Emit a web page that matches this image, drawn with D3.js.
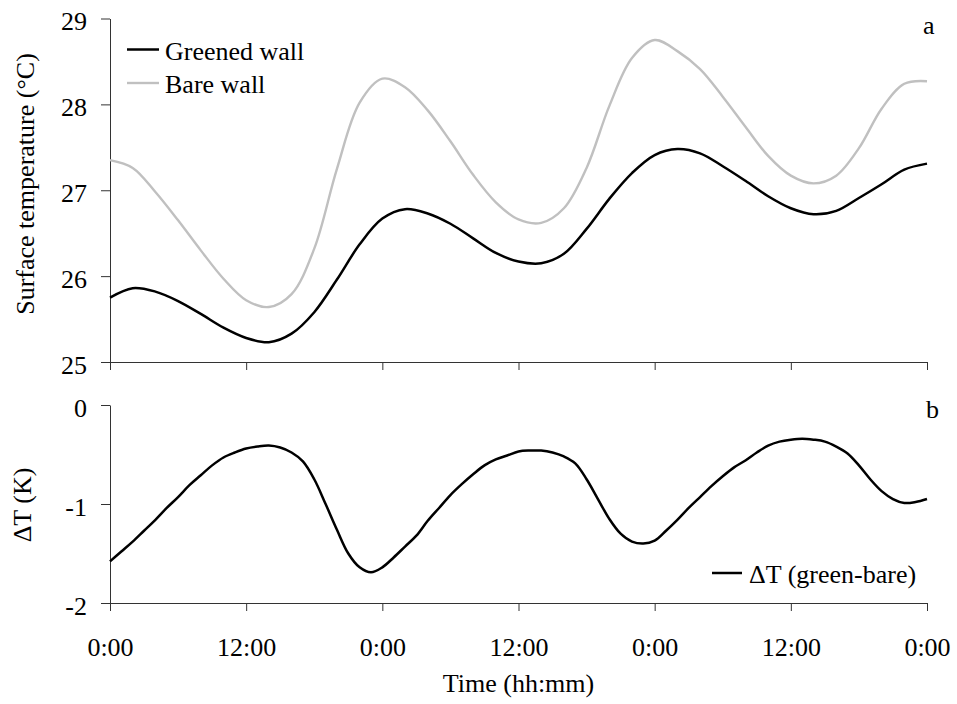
<!DOCTYPE html>
<html>
<head>
<meta charset="utf-8">
<script src="https://cdn.jsdelivr.net/npm/d3@7"></script>
<style>
  html, body { margin: 0; padding: 0; background: #fff; }
  svg { display: block; }
</style>
</head>
<body>
<svg id="chart" width="957" height="704"></svg>
<script>
// ---- Data ----
const hoursTop = [0,2,4,6,8,10,12,14,16,18,20,22,24,26,28,30,32,34,36,38,40,42,44,46,48,50,52,54,56,58,60,62,64,66,68,70,72];
const greenedWall = [25.75,25.86,25.82,25.71,25.56,25.40,25.28,25.23,25.33,25.58,25.96,26.37,26.67,26.78,26.73,26.61,26.44,26.27,26.17,26.15,26.26,26.55,26.90,27.20,27.41,27.48,27.43,27.28,27.11,26.93,26.79,26.72,26.76,26.91,27.07,27.24,27.31];
const bareWall = [27.35,27.26,26.98,26.65,26.30,25.97,25.72,25.64,25.79,26.32,27.25,28.02,28.30,28.20,27.93,27.57,27.18,26.86,26.66,26.62,26.79,27.26,27.98,28.54,28.75,28.62,28.41,28.09,27.74,27.40,27.17,27.08,27.17,27.49,27.95,28.24,28.27];

const hoursBottom = d3.range(0, 73, 1);
const deltaT = [-1.58,-1.48,-1.38,-1.27,-1.16,-1.04,-0.93,-0.81,-0.71,-0.61,-0.53,-0.48,-0.44,-0.42,-0.41,-0.43,-0.48,-0.57,-0.75,-1.00,-1.26,-1.50,-1.64,-1.69,-1.64,-1.54,-1.43,-1.32,-1.17,-1.04,-0.91,-0.80,-0.70,-0.61,-0.55,-0.51,-0.47,-0.46,-0.46,-0.48,-0.52,-0.59,-0.75,-0.95,-1.15,-1.30,-1.38,-1.40,-1.37,-1.27,-1.16,-1.04,-0.93,-0.82,-0.72,-0.63,-0.56,-0.48,-0.41,-0.37,-0.35,-0.34,-0.35,-0.37,-0.42,-0.49,-0.61,-0.75,-0.87,-0.95,-0.99,-0.98,-0.95];

const xTickValues = [0,12,24,36,48,60,72];
const xTickLabels = ["0:00","12:00","0:00","12:00","0:00","12:00","0:00"];
const yTopTicks = [25,26,27,28,29];
const yTopLabels = ["25","26","27","28","29"];
const yBotTicks = [-2,-1,0];
const yBotLabels = ["-2","-1","0"];

const seriesNames = ["Greened wall","Bare wall","\u0394T (green-bare)"];

// ---- Layout ----
const svg = d3.select("#chart");
const FONT = '"Liberation Serif", "Times New Roman", Tinos, Times';
const FS = "26px";
const axisColor = "#333";
const left = 110, right = 927;
const top1 = 18.5, bot1 = 362;
const top2 = 405, bot2 = 603;

const x = d3.scaleLinear().domain([0,72]).range([left, right]);
const yTop = d3.scaleLinear().domain([25,29]).range([bot1, top1]);
const yBot = d3.scaleLinear().domain([-2,0]).range([bot2, top2]);

function txt(sel) {
  return sel.style("font-family", FONT).style("font-size", FS).style("fill", "#000");
}
function styleAxis(g) {
  g.attr("font-family", null).attr("font-size", null);
  g.select(".domain").attr("stroke", axisColor).attr("stroke-width", 1);
  g.selectAll(".tick line").attr("stroke", axisColor).attr("stroke-width", 1);
  txt(g.selectAll("text"));
}

// Top panel axes
svg.append("g").attr("transform", `translate(0,${bot1})`)
  .call(d3.axisBottom(x).tickValues(xTickValues).tickFormat("").tickSize(8).tickSizeOuter(0))
  .call(styleAxis);
svg.append("g").attr("transform", `translate(${left},0)`)
  .call(d3.axisLeft(yTop).tickValues(yTopTicks).tickFormat((d,i)=>yTopLabels[i]).tickSize(9).tickPadding(14).tickSizeOuter(0))
  .call(styleAxis)
  .call(g => g.selectAll("text").attr("dy", "0.43em"));

// Bottom panel axes
svg.append("g").attr("transform", `translate(0,${bot2})`)
  .call(d3.axisBottom(x).tickValues(xTickValues).tickFormat((d,i)=>xTickLabels[i]).tickSize(8).tickPadding(26.5).tickSizeOuter(0))
  .call(styleAxis);
svg.append("g").attr("transform", `translate(${left},0)`)
  .call(d3.axisLeft(yBot).tickValues(yBotTicks).tickFormat((d,i)=>yBotLabels[i]).tickSize(9).tickPadding(14).tickSizeOuter(0))
  .call(styleAxis)
  .call(g => g.selectAll("text").attr("dy", "0.43em"));

// Lines
const curve = d3.curveCatmullRom.alpha(0.5);
const lineTop = (vals) => d3.line().x((d,i)=>x(hoursTop[i])).y(d=>yTop(d)).curve(curve)(vals);
svg.append("path").attr("d", lineTop(bareWall)).attr("fill","none").attr("stroke","#c0c0c0").attr("stroke-width",2.4).attr("stroke-linejoin","round");
svg.append("path").attr("d", lineTop(greenedWall)).attr("fill","none").attr("stroke","#000").attr("stroke-width",2.5).attr("stroke-linejoin","round");
const lineBot = d3.line().x((d,i)=>x(hoursBottom[i])).y(d=>yBot(d)).curve(curve);
svg.append("path").attr("d", lineBot(deltaT)).attr("fill","none").attr("stroke","#000").attr("stroke-width",2.5).attr("stroke-linejoin","round");

// Legends
const leg = svg.append("g");
leg.append("line").attr("x1",127).attr("x2",159).attr("y1",49.5).attr("y2",49.5).attr("stroke","#000").attr("stroke-width",2.5);
txt(leg.append("text").attr("x",165).attr("y",60)).text(seriesNames[0]);
leg.append("line").attr("x1",127).attr("x2",159).attr("y1",83).attr("y2",83).attr("stroke","#c0c0c0").attr("stroke-width",2.4);
txt(leg.append("text").attr("x",165).attr("y",93)).text(seriesNames[1]);
leg.append("line").attr("x1",712).attr("x2",742).attr("y1",573).attr("y2",573).attr("stroke","#000").attr("stroke-width",2.5);
txt(leg.append("text").attr("x",749).attr("y",583)).text(seriesNames[2]);

// Panel labels
txt(svg.append("text").attr("x",923).attr("y",34)).text("a");
txt(svg.append("text").attr("x",926).attr("y",418)).text("b");

// Axis titles
txt(svg.append("text").attr("transform","translate(34,184) rotate(-90)").attr("text-anchor","middle")).text("Surface temperature (\u00B0C)");
txt(svg.append("text").attr("transform","translate(31,505) rotate(-90)").attr("text-anchor","middle")).text("\u0394T (K)");
txt(svg.append("text").attr("x",518.5).attr("y",692).attr("text-anchor","middle")).text("Time (hh:mm)");
</script>
</body>
</html>
